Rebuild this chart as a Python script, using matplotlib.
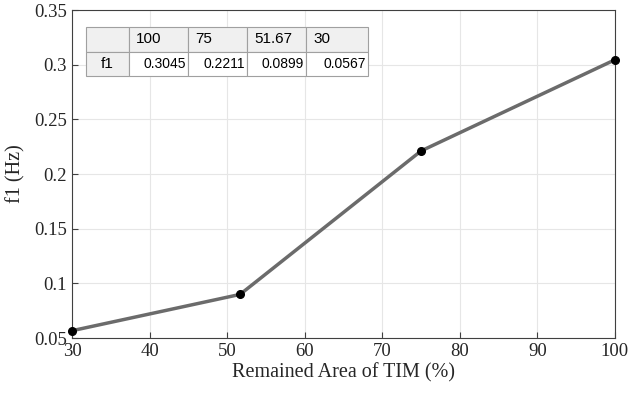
import matplotlib
matplotlib.use('Agg')
import matplotlib.pyplot as plt

# data
area = [100, 75, 51.67, 30]
f1 = [0.3045, 0.2211, 0.0899, 0.0567]
col_labels = ['100', '75', '51.67', '30']
row_label = 'f1'
f1_text = ['0.3045', '0.2211', '0.0899', '0.0567']

fig = plt.figure(figsize=(6.28, 4.01), dpi=100)
ax = fig.add_axes([0.1146, 0.157, 0.8646, 0.818])

ax.plot(area, f1, color='#6b6b6b', linewidth=2.5, zorder=3)
ax.plot(area, f1, 'o', color='black', markersize=5.5, zorder=4, clip_on=False)

ax.set_xlim(30, 100)
ax.set_ylim(0.05, 0.35)
ax.set_xticks(range(30, 101, 10))
ax.set_yticks([0.05, 0.1, 0.15, 0.2, 0.25, 0.3, 0.35])
ax.set_yticklabels(['0.05', '0.1', '0.15', '0.2', '0.25', '0.3', '0.35'])
ax.grid(True, color='#e6e6e6', linewidth=0.8)
ax.set_axisbelow(True)
ax.tick_params(direction='in', length=4, color='#404040', labelsize=13.5, labelcolor='#262626')
for lbl in ax.get_xticklabels() + ax.get_yticklabels():
    lbl.set_family('Liberation Serif')
for s in ax.spines.values():
    s.set_color('#404040')
    s.set_linewidth(0.8)

ax.set_xlabel('Remained Area of TIM (%)', family='Liberation Serif', fontsize=14.5, color='#262626', labelpad=2)
ax.set_ylabel('f1 (Hz)', family='Liberation Serif', fontsize=14.5, color='#262626', labelpad=6)

# table
cells = [[''] + col_labels, [row_label] + f1_text]
widths = [43, 59, 59, 59, 62]
tot = sum(widths)
tbl = ax.table(cellText=cells, colWidths=[w / tot for w in widths],
               bbox=[0.0258, 0.799, 0.519, 0.149], zorder=5)
tbl.auto_set_font_size(False)
for (r, c), cell in tbl.get_celld().items():
    cell.set_edgecolor('#a0a0a0')
    cell.set_linewidth(0.8)
    txt = cell.get_text()
    txt.set_family('Liberation Sans')
    if r == 0 or c == 0:
        cell.set_facecolor('#f0f0f0')
    else:
        cell.set_facecolor('white')
    if r == 0:
        txt.set_fontsize(11)
        cell._loc = 'left'
        txt.set_ha('left')
        cell.PAD = 0.12
    elif c == 0:
        txt.set_fontsize(11)
        cell._loc = 'center'
        txt.set_ha('center')
    else:
        txt.set_fontsize(10)
        cell._loc = 'right'
        txt.set_ha('right')
        cell.PAD = 0.03

fig.savefig('out.png', dpi=100)
